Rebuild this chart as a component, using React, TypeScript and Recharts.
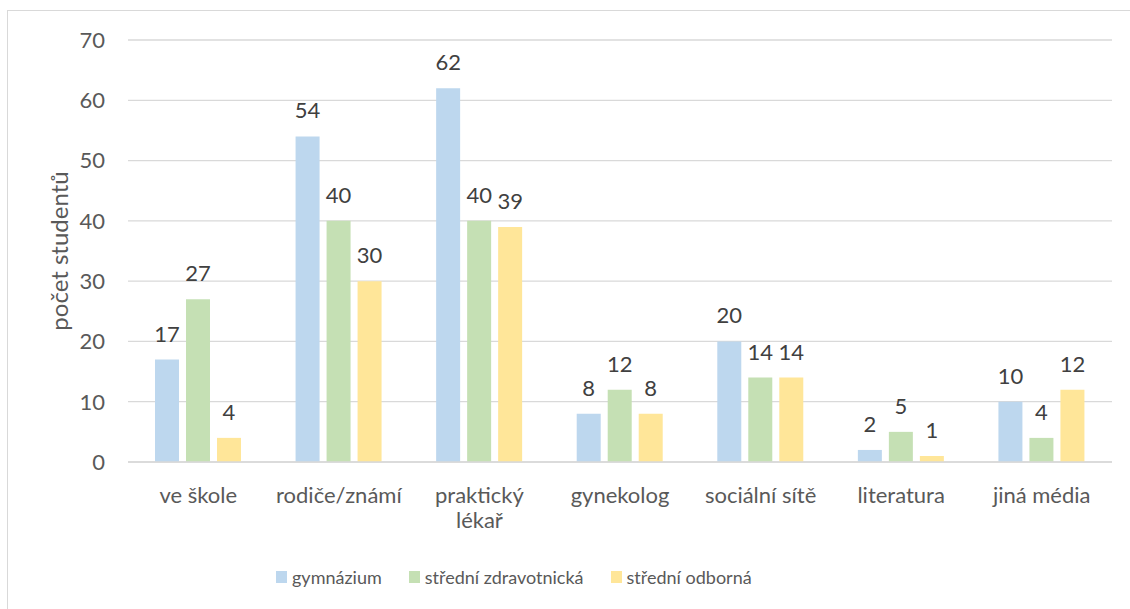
import { Bar, BarChart, CartesianGrid, LabelList, Legend, XAxis, YAxis } from "recharts";

const CATEGORIES = [
  "ve škole",
  "rodiče/známí",
  "praktický lékař",
  "gynekolog",
  "sociální sítě",
  "literatura",
  "jiná média",
];
const GYMNAZIUM = [17, 54, 62, 8, 20, 2, 10];
const ZDRAVOTNICKA = [27, 40, 40, 12, 14, 5, 4];
const ODBORNA = [4, 30, 39, 8, 14, 1, 12];
const Y_TICKS = [0, 10, 20, 30, 40, 50, 60, 70];

const SERIES = [
  { key: "gym", name: "gymnázium", color: "#BDD7EE", values: GYMNAZIUM },
  { key: "zdr", name: "střední zdravotnická", color: "#C5E0B4", values: ZDRAVOTNICKA },
  { key: "odb", name: "střední odborná", color: "#FFE699", values: ODBORNA },
];

const data = CATEGORIES.map((name, i) => {
  const row: Record<string, string | number> = { name };
  SERIES.forEach((s) => (row[s.key] = s.values[i]));
  return row;
});

const FONT = "Lato, 'Open Sans', sans-serif";
const AXIS_TEXT = "#595959";
const LABEL_TEXT = "#404040";
const GRID = "#D9D9D9";

// long category names go on two lines
function CategoryTick(props: any) {
  const { x, y, payload } = props;
  const label = String(payload?.value ?? "");
  const lines = label.length > 14 ? label.split(" ") : [label];
  return (
    <text x={x} y={y} textAnchor="middle" fill={AXIS_TEXT} fontSize={22} fontFamily={FONT}>
      {lines.map((line, i) => (
        <tspan key={i} x={x} dy={i === 0 ? 39 : 25}>
          {line}
        </tspan>
      ))}
    </text>
  );
}

function AxisTitle(props: any) {
  const vb = props.viewBox ?? {};
  const cx = vb.x + 48;
  const cy = vb.y + vb.height / 2;
  return (
    <text
      x={cx}
      y={cy}
      transform={`rotate(-90, ${cx}, ${cy})`}
      textAnchor="middle"
      dominantBaseline="central"
      fill={AXIS_TEXT}
      fontSize={24}
      fontFamily={FONT}
    >
      počet studentů
    </text>
  );
}

function LegendContent() {
  return (
    <div
      style={{
        display: "flex",
        alignItems: "center",
        height: 24,
        paddingLeft: 276,
        fontFamily: FONT,
        fontSize: 18,
        color: AXIS_TEXT,
      }}
    >
      {SERIES.map((s) => (
        <div key={s.key} style={{ display: "flex", alignItems: "center", marginRight: 27 }}>
          <span style={{ width: 11, height: 12, background: s.color, marginRight: 5 }} />
          <span>{s.name}</span>
        </div>
      ))}
    </div>
  );
}

export default function App() {
  return (
    <div style={{ position: "absolute", left: 0, top: 0, width: 1130, height: 609, background: "#fff" }}>
      <div
        style={{
          position: "absolute",
          left: 7,
          top: 10,
          right: 0,
          bottom: 0,
          borderLeft: `1px solid ${GRID}`,
          borderTop: `1px solid ${GRID}`,
        }}
      />
      <BarChart
        width={1130}
        height={609}
        data={data}
        margin={{ top: 40, right: 18, bottom: 20, left: 10 }}
        barSize={24}
        barGap={7}
      >
        <CartesianGrid vertical={false} stroke={GRID} strokeWidth={1.3} />
        <XAxis
          dataKey="name"
          axisLine={{ stroke: GRID, strokeWidth: 1.3 }}
          tickLine={false}
          tickSize={0}
          height={103}
          interval={0}
          tick={<CategoryTick />}
        />
        <YAxis
          width={118}
          domain={[0, 70]}
          ticks={Y_TICKS}
          axisLine={false}
          tickLine={false}
          tickSize={0}
          tickMargin={23}
          tick={{ fill: AXIS_TEXT, fontSize: 22, fontFamily: FONT }}
          label={<AxisTitle />}
        />
        <Legend
          verticalAlign="bottom"
          content={<LegendContent />}
          wrapperStyle={{ left: 0, width: 1130 }}
        />
        {SERIES.map((s) => (
          <Bar key={s.key} dataKey={s.key} name={s.name} fill={s.color} isAnimationActive={false}>
            <LabelList
              dataKey={s.key}
              position="top"
              offset={18}
              fill={LABEL_TEXT}
              fontSize={22}
              fontFamily={FONT}
            />
          </Bar>
        ))}
      </BarChart>
    </div>
  );
}
